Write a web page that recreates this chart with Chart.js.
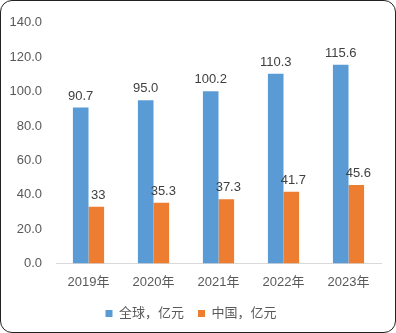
<!DOCTYPE html>
<html>
<head>
<meta charset="utf-8">
<script src="https://cdn.jsdelivr.net/npm/chart.js@4"></script>
<style>
    html, body { margin: 0; padding: 0; background: #fff; }
    #wrap {
        position: absolute; left: 0; top: 0;
        width: 396px; height: 333px;
        box-sizing: border-box;
        border: 1px solid #222;
        border-radius: 12px;
        overflow: hidden;
    }
    #chart { display: block; }
</style>
</head>
<body>
<div id="wrap"><canvas id="chart" width="394" height="331"></canvas></div>
<script>
    /* ===== Data ===== */
    var years = ["2019年", "2020年", "2021年", "2022年", "2023年"];
    var globalVals = [90.7, 95.0, 100.2, 110.3, 115.6];
    var chinaVals = [33, 35.3, 37.3, 41.7, 45.6];
    var seriesNames = ["全球，亿元", "中国，亿元"];

    var FONT = "'Liberation Sans', 'Noto Sans CJK SC', sans-serif";

    /* --- value labels above each bar --- */
    var barLabels = {
        id: "barLabels",
        afterDatasetsDraw: function (chart) {
            var ctx = chart.ctx;
            ctx.save();
            ctx.font = "13px " + FONT;
            ctx.fillStyle = "#404040";
            ctx.textAlign = "center";
            ctx.textBaseline = "alphabetic";
            chart.data.datasets.forEach(function (ds, di) {
                var meta = chart.getDatasetMeta(di);
                meta.data.forEach(function (bar, i) {
                    var v = ds.data[i];
                    var txt = di === 0 ? v.toFixed(1) : String(v);
                    ctx.fillText(txt, bar.x + (di === 1 ? 2 : 0), bar.y - 8);
                });
            });
            ctx.restore();
        }
    };

    new Chart(document.getElementById("chart"), {
        type: "bar",
        data: {
            labels: years,
            datasets: [
                { label: seriesNames[0], data: globalVals, backgroundColor: "#5B9BD5" },
                { label: seriesNames[1], data: chinaVals, backgroundColor: "#ED7D31" }
            ]
        },
        options: {
            responsive: false,
            animation: false,
            events: [],
            datasets: { bar: { categoryPercentage: 0.48, barPercentage: 1 } },
            layout: { autoPadding: false, padding: { left: 0, right: 14, top: 3, bottom: 2 } },
            scales: {
                y: {
                    min: 0,
                    max: 140,
                    ticks: {
                        stepSize: 20,
                        padding: 14,
                        color: "#595959",
                        font: { family: FONT, size: 13 },
                        callback: function (v) { return v.toFixed(1); }
                    },
                    grid: { display: false, drawTicks: false },
                    border: { display: false },
                    afterFit: function (s) { s.width = 55; }
                },
                x: {
                    ticks: {
                        padding: 11,
                        color: "#595959",
                        font: { family: FONT, size: 13 }
                    },
                    grid: { display: false, drawTicks: false },
                    border: { display: true, color: "#d9d9d9", width: 1 },
                    afterFit: function (s) { s.height = 29.5; }
                }
            },
            plugins: {
                legend: {
                    position: "bottom",
                    labels: {
                        boxWidth: 7,
                        boxHeight: 7,
                        padding: 14,
                        color: "#595959",
                        font: { family: FONT, size: 13 }
                    }
                },
                tooltip: { enabled: false }
            }
        },
        plugins: [barLabels]
    });
</script>
</body>
</html>
